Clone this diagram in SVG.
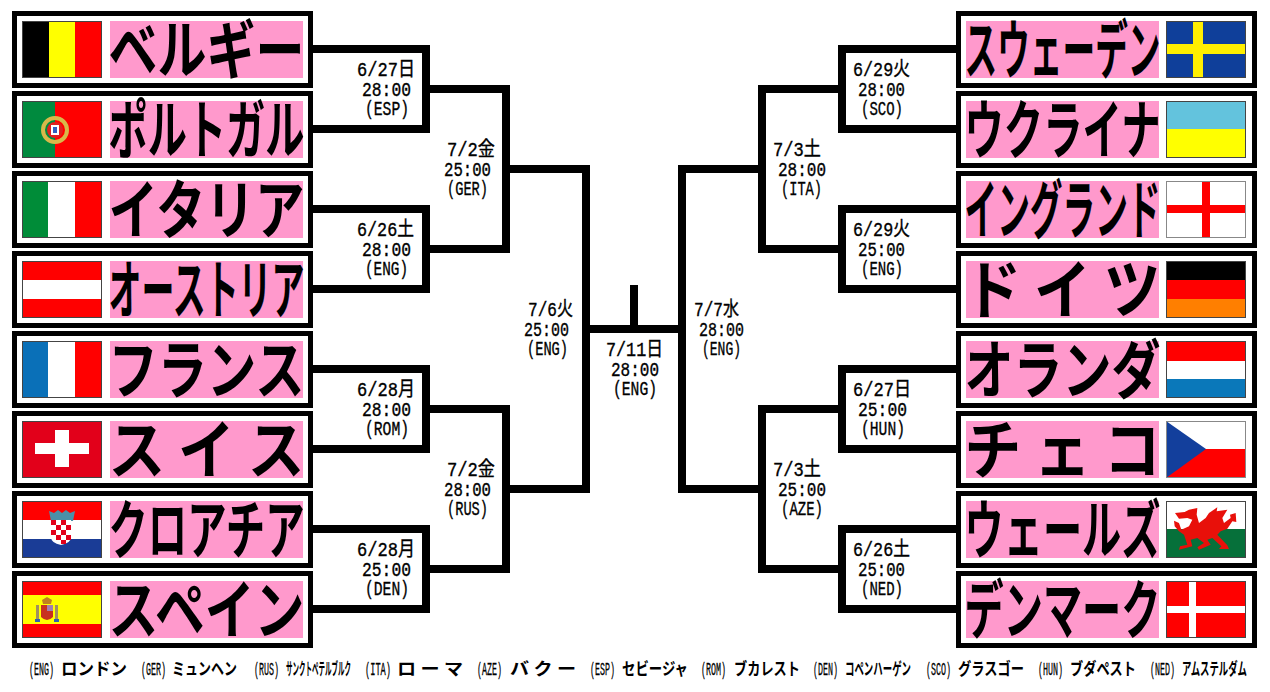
<svg xmlns="http://www.w3.org/2000/svg" width="1270" height="692" viewBox="0 0 1270 692">
<style>
.box{fill:#fff;stroke:#000;stroke-width:5}
.pink{fill:#ff99cc}
.name{font-family:"Noto Sans CJK JP","Liberation Sans",sans-serif;font-weight:700;font-size:64px;fill:#000}
.lb{font-family:"Liberation Mono","Noto Sans CJK JP",monospace;font-weight:400;font-size:20px;fill:#000;stroke:#000;stroke-width:.35}
.fc{font-family:"Liberation Mono","Noto Sans CJK JP",monospace;font-weight:400;font-size:18px;fill:#000;stroke:#000;stroke-width:.3}
.fn{font-family:"Noto Sans CJK JP","Liberation Sans",sans-serif;font-weight:700;font-size:17px;fill:#000}
.fb{fill:none;stroke:#444;stroke-width:1}
.con{fill:none;stroke:#000;stroke-width:8;stroke-linejoin:miter;stroke-linecap:butt}
</style>
<rect width="1270" height="692" fill="#fff"/>
<g id="connectors" class="con">
<path d="M313 49H426V129H313M313 209H426V289H313M313 369H426V449H313M313 529H426V609H313"/>
<path d="M426 89H506V249H426M426 409H506V569H426"/>
<path d="M506 169H586V489H506"/>
<path d="M586 329H682M634 285V329"/>
<path d="M762 169H682V489H762"/>
<path d="M842 89H762V249H842M842 409H762V569H842"/>
<path d="M956 49H842V129H956M956 209H842V289H956M956 369H842V449H956M956 529H842V609H956"/>
</g>
<g id="belgium"><rect class="box" x="14.500" y="13.500" width="296" height="72"/><rect class="pink" x="110" y="21" width="193" height="57"/>
<g transform="translate(22,21)"><rect width="27" height="57" fill="#000"/><rect x="27" width="26" height="57" fill="#ff0"/><rect x="53" width="27" height="57" fill="#f00"/><rect class="fb" x=".5" y=".5" width="79" height="56"/></g>
<text class="name" x="108.500" y="73" textLength="196" lengthAdjust="spacingAndGlyphs">ベルギー</text></g>
<g id="portugal"><rect class="box" x="14.500" y="93.500" width="296" height="72"/><rect class="pink" x="110" y="101" width="193" height="57"/>
<g transform="translate(22,101)"><rect width="33" height="57" fill="#008a3e"/><rect x="33" width="47" height="57" fill="#f00"/><circle cx="33" cy="29" r="12" fill="none" stroke="#d8b84a" stroke-width="4"/><circle cx="33" cy="29" r="8" fill="#e02020"/><rect x="29" y="24" width="8" height="10" fill="#fff"/><rect x="31" y="26" width="4" height="6" fill="#3060c0"/><rect class="fb" x=".5" y=".5" width="79" height="56"/></g>
<text class="name" x="108.500" y="153" textLength="196" lengthAdjust="spacingAndGlyphs">ポルトガル</text></g>
<g id="italy"><rect class="box" x="14.500" y="173.500" width="296" height="72"/><rect class="pink" x="110" y="181" width="193" height="57"/>
<g transform="translate(22,181)"><rect width="26" height="57" fill="#008c38"/><rect x="26" width="27" height="57" fill="#fff"/><rect x="53" width="27" height="57" fill="#f00"/><rect class="fb" x=".5" y=".5" width="79" height="56"/></g>
<text class="name" x="108.500" y="233" textLength="196" lengthAdjust="spacingAndGlyphs">イタリア</text></g>
<g id="austria"><rect class="box" x="14.500" y="253.500" width="296" height="72"/><rect class="pink" x="110" y="261" width="193" height="57"/>
<g transform="translate(22,261)"><rect width="80" height="57" fill="#f00"/><rect y="19" width="80" height="19" fill="#fff"/><rect class="fb" x=".5" y=".5" width="79" height="56"/></g>
<text class="name" x="108.500" y="313" textLength="196" lengthAdjust="spacingAndGlyphs">オーストリア</text></g>
<g id="france"><rect class="box" x="14.500" y="333.500" width="296" height="72"/><rect class="pink" x="110" y="341" width="193" height="57"/>
<g transform="translate(22,341)"><rect width="26" height="57" fill="#0a70b8"/><rect x="26" width="27" height="57" fill="#fff"/><rect x="53" width="27" height="57" fill="#f00"/><rect class="fb" x=".5" y=".5" width="79" height="56"/></g>
<text class="name" x="108.500" y="393" textLength="196" lengthAdjust="spacingAndGlyphs">フランス</text></g>
<g id="switzerland"><rect class="box" x="14.500" y="413.500" width="296" height="72"/><rect class="pink" x="110" y="421" width="193" height="57"/>
<g transform="translate(22,421)"><rect width="80" height="57" fill="#e2001a"/><rect x="33" y="9" width="14" height="37" fill="#fff"/><rect x="13" y="22" width="54" height="11" fill="#fff"/><rect class="fb" x=".5" y=".5" width="79" height="56"/></g>
<text class="name" x="108.500" y="473" textLength="196" lengthAdjust="spacingAndGlyphs">ス イ ス</text></g>
<g id="croatia"><rect class="box" x="14.500" y="493.500" width="296" height="72"/><rect class="pink" x="110" y="501" width="193" height="57"/>
<g transform="translate(22,501)"><rect width="80" height="19" fill="#f00"/><rect y="19" width="80" height="19" fill="#fff"/><rect y="38" width="80" height="19" fill="#1a3c96"/><path d="M27 10l5 2 4-3 4 3 4-3 4 3 5-2-2 10H29z" fill="#4a90a8"/><path d="M29 19H49V36Q49 42 39 44 29 42 29 36Z" fill="#fff"/><path d="M29 19h5v5h-5zM39 19h5v5h-5zM34 24h5v5h-5zM44 24h5v5h-5zM29 29h5v5h-5zM39 29h5v5h-5zM34 34h5v5h-5zM44 34h5v5h-5zM39 39h5v4h-5z" fill="#e2001a"/><rect class="fb" x=".5" y=".5" width="79" height="56"/></g>
<text class="name" x="108.500" y="553" textLength="196" lengthAdjust="spacingAndGlyphs">クロアチア</text></g>
<g id="spain"><rect class="box" x="14.500" y="573.500" width="296" height="72"/><rect class="pink" x="110" y="581" width="193" height="57"/>
<g transform="translate(22,581)"><rect width="80" height="57" fill="#f00"/><rect y="14" width="80" height="29" fill="#ff0"/><path d="M20 19l5-3 5 3-1 4H21z" fill="#c08020"/><path d="M19 24H31V36Q25 42 19 36Z" fill="#c83020"/><rect x="25" y="24" width="6" height="6" fill="#a080b0"/><rect x="14" y="24" width="3" height="16" fill="#a09060"/><rect x="33" y="24" width="3" height="16" fill="#a09060"/><rect x="13" y="38" width="5" height="3" fill="#3060b0"/><rect x="32" y="38" width="5" height="3" fill="#3060b0"/><rect class="fb" x=".5" y=".5" width="79" height="56"/></g>
<text class="name" x="108.500" y="633" textLength="196" lengthAdjust="spacingAndGlyphs">スペイン</text></g>
<g id="sweden"><rect class="box" x="958.500" y="13.500" width="296" height="72"/><rect class="pink" x="966" y="21" width="193" height="57"/>
<g transform="translate(1166,21)"><rect width="80" height="57" fill="#0f3f9a"/><rect x="27" width="10" height="57" fill="#ffef00"/><rect y="23" width="80" height="10" fill="#ffef00"/><rect class="fb" x=".5" y=".5" width="79" height="56"/></g>
<text class="name" x="964.500" y="73" textLength="196" lengthAdjust="spacingAndGlyphs">スウェーデン</text></g>
<g id="ukraine"><rect class="box" x="958.500" y="93.500" width="296" height="72"/><rect class="pink" x="966" y="101" width="193" height="57"/>
<g transform="translate(1166,101)"><rect width="80" height="28" fill="#63c3dd"/><rect y="28" width="80" height="29" fill="#ff0"/><rect class="fb" x=".5" y=".5" width="79" height="56"/></g>
<text class="name" x="964.500" y="153" textLength="196" lengthAdjust="spacingAndGlyphs">ウクライナ</text></g>
<g id="england"><rect class="box" x="958.500" y="173.500" width="296" height="72"/><rect class="pink" x="966" y="181" width="193" height="57"/>
<g transform="translate(1166,181)"><rect width="80" height="57" fill="#fff"/><rect x="36" width="8" height="57" fill="#f00"/><rect y="24" width="80" height="8" fill="#f00"/><rect class="fb" x=".5" y=".5" width="79" height="56" style="stroke:#888"/></g>
<text class="name" x="964.500" y="233" textLength="196" lengthAdjust="spacingAndGlyphs">イングランド</text></g>
<g id="germany"><rect class="box" x="958.500" y="253.500" width="296" height="72"/><rect class="pink" x="966" y="261" width="193" height="57"/>
<g transform="translate(1166,261)"><rect width="80" height="19" fill="#000"/><rect y="19" width="80" height="19" fill="#f00"/><rect y="38" width="80" height="19" fill="#ff7f00"/><rect class="fb" x=".5" y=".5" width="79" height="56"/></g>
<text class="name" x="964.500" y="313" textLength="196" lengthAdjust="spacingAndGlyphs">ド イ ツ</text></g>
<g id="netherlands"><rect class="box" x="958.500" y="333.500" width="296" height="72"/><rect class="pink" x="966" y="341" width="193" height="57"/>
<g transform="translate(1166,341)"><rect width="80" height="20" fill="#f00"/><rect y="20" width="80" height="18" fill="#fff"/><rect y="38" width="80" height="19" fill="#0a78ba"/><rect class="fb" x=".5" y=".5" width="79" height="56"/></g>
<text class="name" x="964.500" y="393" textLength="196" lengthAdjust="spacingAndGlyphs">オランダ</text></g>
<g id="czech"><rect class="box" x="958.500" y="413.500" width="296" height="72"/><rect class="pink" x="966" y="421" width="193" height="57"/>
<g transform="translate(1166,421)"><rect width="80" height="28" fill="#fff"/><rect y="28" width="80" height="29" fill="#f00"/><path d="M0 0L40 28 0 57Z" fill="#133f9c"/><rect class="fb" x=".5" y=".5" width="79" height="56" style="stroke:#888"/></g>
<text class="name" x="964.500" y="473" textLength="196" lengthAdjust="spacingAndGlyphs">チ ェ コ</text></g>
<g id="wales"><rect class="box" x="958.500" y="493.500" width="296" height="72"/><rect class="pink" x="966" y="501" width="193" height="57"/>
<g transform="translate(1166,501)"><rect width="80" height="28" fill="#fff"/><rect y="28" width="80" height="29" fill="#06703a"/><path transform="translate(-2,-3) scale(.3333)" fill="#e8100a" d="M33 45L62 42 75 35 100 30 98 50 105 75 125 60 135 45 160 28 158 40 190 35 175 60 180 75 200 60 198 50 215 45 217 72 205 70 190 92 170 100 160 110 190 142 195 153 165 153 172 145 145 120 130 125 140 140 105 155 100 148 120 135 100 120 80 125 85 145 45 155 48 145 70 140 60 110 45 100 32 85 30 68 45 75 52 95 75 85 85 65 70 60 45 62Z"/><rect class="fb" x=".5" y=".5" width="79" height="56"/></g>
<text class="name" x="964.500" y="553" textLength="196" lengthAdjust="spacingAndGlyphs">ウェールズ</text></g>
<g id="denmark"><rect class="box" x="958.500" y="573.500" width="296" height="72"/><rect class="pink" x="966" y="581" width="193" height="57"/>
<g transform="translate(1166,581)"><rect width="80" height="57" fill="#f00"/><rect x="23" width="7" height="57" fill="#fff"/><rect y="25" width="80" height="7" fill="#fff"/><rect class="fb" x=".5" y=".5" width="79" height="56"/></g>
<text class="name" x="964.500" y="633" textLength="196" lengthAdjust="spacingAndGlyphs">デンマーク</text></g>
<g id="labels">
<text class="lb" x="357" y="76" textLength="58" lengthAdjust="spacingAndGlyphs">6/27日</text><text class="lb" x="362" y="96" textLength="49" lengthAdjust="spacingAndGlyphs">28:00</text><text class="lb" x="365" y="115" textLength="44" lengthAdjust="spacingAndGlyphs">(ESP)</text>
<text class="lb" x="357" y="236" textLength="57" lengthAdjust="spacingAndGlyphs">6/26土</text><text class="lb" x="362" y="256" textLength="49" lengthAdjust="spacingAndGlyphs">28:00</text><text class="lb" x="365" y="275" textLength="43" lengthAdjust="spacingAndGlyphs">(ENG)</text>
<text class="lb" x="357" y="396" textLength="58" lengthAdjust="spacingAndGlyphs">6/28月</text><text class="lb" x="362" y="416" textLength="49" lengthAdjust="spacingAndGlyphs">28:00</text><text class="lb" x="365" y="435" textLength="44" lengthAdjust="spacingAndGlyphs">(ROM)</text>
<text class="lb" x="357" y="556" textLength="58" lengthAdjust="spacingAndGlyphs">6/28月</text><text class="lb" x="362" y="576" textLength="49" lengthAdjust="spacingAndGlyphs">25:00</text><text class="lb" x="365" y="595" textLength="44" lengthAdjust="spacingAndGlyphs">(DEN)</text>
<text class="lb" x="447" y="156" textLength="48" lengthAdjust="spacingAndGlyphs">7/2金</text><text class="lb" x="444" y="176" textLength="47" lengthAdjust="spacingAndGlyphs">25:00</text><text class="lb" x="447" y="195" textLength="41" lengthAdjust="spacingAndGlyphs">(GER)</text>
<text class="lb" x="447" y="476" textLength="48" lengthAdjust="spacingAndGlyphs">7/2金</text><text class="lb" x="444" y="496" textLength="47" lengthAdjust="spacingAndGlyphs">28:00</text><text class="lb" x="447" y="515" textLength="41" lengthAdjust="spacingAndGlyphs">(RUS)</text>
<text class="lb" x="528" y="316" textLength="45" lengthAdjust="spacingAndGlyphs">7/6火</text><text class="lb" x="524" y="336" textLength="45" lengthAdjust="spacingAndGlyphs">25:00</text><text class="lb" x="527" y="355" textLength="41" lengthAdjust="spacingAndGlyphs">(ENG)</text>
<text class="lb" x="606" y="356" textLength="57" lengthAdjust="spacingAndGlyphs">7/11日</text><text class="lb" x="611" y="376" textLength="48" lengthAdjust="spacingAndGlyphs">28:00</text><text class="lb" x="613" y="395" textLength="44" lengthAdjust="spacingAndGlyphs">(ENG)</text>
<text class="lb" x="694" y="316" textLength="45" lengthAdjust="spacingAndGlyphs">7/7水</text><text class="lb" x="699" y="336" textLength="45" lengthAdjust="spacingAndGlyphs">28:00</text><text class="lb" x="702" y="355" textLength="39" lengthAdjust="spacingAndGlyphs">(ENG)</text>
<text class="lb" x="773" y="156" textLength="48" lengthAdjust="spacingAndGlyphs">7/3土</text><text class="lb" x="778" y="176" textLength="48" lengthAdjust="spacingAndGlyphs">28:00</text><text class="lb" x="781" y="195" textLength="41" lengthAdjust="spacingAndGlyphs">(ITA)</text>
<text class="lb" x="773" y="476" textLength="48" lengthAdjust="spacingAndGlyphs">7/3土</text><text class="lb" x="778" y="496" textLength="48" lengthAdjust="spacingAndGlyphs">25:00</text><text class="lb" x="781" y="515" textLength="42" lengthAdjust="spacingAndGlyphs">(AZE)</text>
<text class="lb" x="853" y="76" textLength="57" lengthAdjust="spacingAndGlyphs">6/29火</text><text class="lb" x="858" y="96" textLength="47" lengthAdjust="spacingAndGlyphs">28:00</text><text class="lb" x="861" y="115" textLength="42" lengthAdjust="spacingAndGlyphs">(SCO)</text>
<text class="lb" x="853" y="236" textLength="57" lengthAdjust="spacingAndGlyphs">6/29火</text><text class="lb" x="858" y="256" textLength="47" lengthAdjust="spacingAndGlyphs">25:00</text><text class="lb" x="861" y="275" textLength="42" lengthAdjust="spacingAndGlyphs">(ENG)</text>
<text class="lb" x="853" y="396" textLength="58" lengthAdjust="spacingAndGlyphs">6/27日</text><text class="lb" x="858" y="416" textLength="49" lengthAdjust="spacingAndGlyphs">25:00</text><text class="lb" x="861" y="435" textLength="44" lengthAdjust="spacingAndGlyphs">(HUN)</text>
<text class="lb" x="853" y="556" textLength="57" lengthAdjust="spacingAndGlyphs">6/26土</text><text class="lb" x="858" y="576" textLength="47" lengthAdjust="spacingAndGlyphs">25:00</text><text class="lb" x="861" y="595" textLength="42" lengthAdjust="spacingAndGlyphs">(NED)</text>
</g>
<g id="venues">
<text class="fc" x="29" y="675" textLength="25" lengthAdjust="spacingAndGlyphs">(ENG)</text><text class="fn" x="61" y="675" textLength="66" lengthAdjust="spacingAndGlyphs">ロンドン</text>
<text class="fc" x="141" y="675" textLength="25" lengthAdjust="spacingAndGlyphs">(GER)</text><text class="fn" x="172" y="675" textLength="65" lengthAdjust="spacingAndGlyphs">ミュンヘン</text>
<text class="fc" x="254" y="675" textLength="25" lengthAdjust="spacingAndGlyphs">(RUS)</text><text class="fn" x="286" y="675" textLength="65" lengthAdjust="spacingAndGlyphs">サンクトペテルブルク</text>
<text class="fc" x="365" y="675" textLength="26" lengthAdjust="spacingAndGlyphs">(ITA)</text><text class="fn" x="397" y="675" textLength="66" lengthAdjust="spacingAndGlyphs">ロ ー マ</text>
<text class="fc" x="477" y="675" textLength="25" lengthAdjust="spacingAndGlyphs">(AZE)</text><text class="fn" x="510" y="675" textLength="66" lengthAdjust="spacingAndGlyphs">バ ク ー</text>
<text class="fc" x="590" y="675" textLength="25" lengthAdjust="spacingAndGlyphs">(ESP)</text><text class="fn" x="622" y="675" textLength="66" lengthAdjust="spacingAndGlyphs">セビージャ</text>
<text class="fc" x="701" y="675" textLength="25" lengthAdjust="spacingAndGlyphs">(ROM)</text><text class="fn" x="734" y="675" textLength="66" lengthAdjust="spacingAndGlyphs">ブカレスト</text>
<text class="fc" x="813" y="675" textLength="25" lengthAdjust="spacingAndGlyphs">(DEN)</text><text class="fn" x="845" y="675" textLength="66" lengthAdjust="spacingAndGlyphs">コペンハーゲン</text>
<text class="fc" x="926" y="675" textLength="25" lengthAdjust="spacingAndGlyphs">(SCO)</text><text class="fn" x="958" y="675" textLength="66" lengthAdjust="spacingAndGlyphs">グラスゴー</text>
<text class="fc" x="1038" y="675" textLength="25" lengthAdjust="spacingAndGlyphs">(HUN)</text><text class="fn" x="1070" y="675" textLength="66" lengthAdjust="spacingAndGlyphs">ブダペスト</text>
<text class="fc" x="1150" y="675" textLength="25" lengthAdjust="spacingAndGlyphs">(NED)</text><text class="fn" x="1182" y="675" textLength="65" lengthAdjust="spacingAndGlyphs">アムステルダム</text>
</g>
</svg>
